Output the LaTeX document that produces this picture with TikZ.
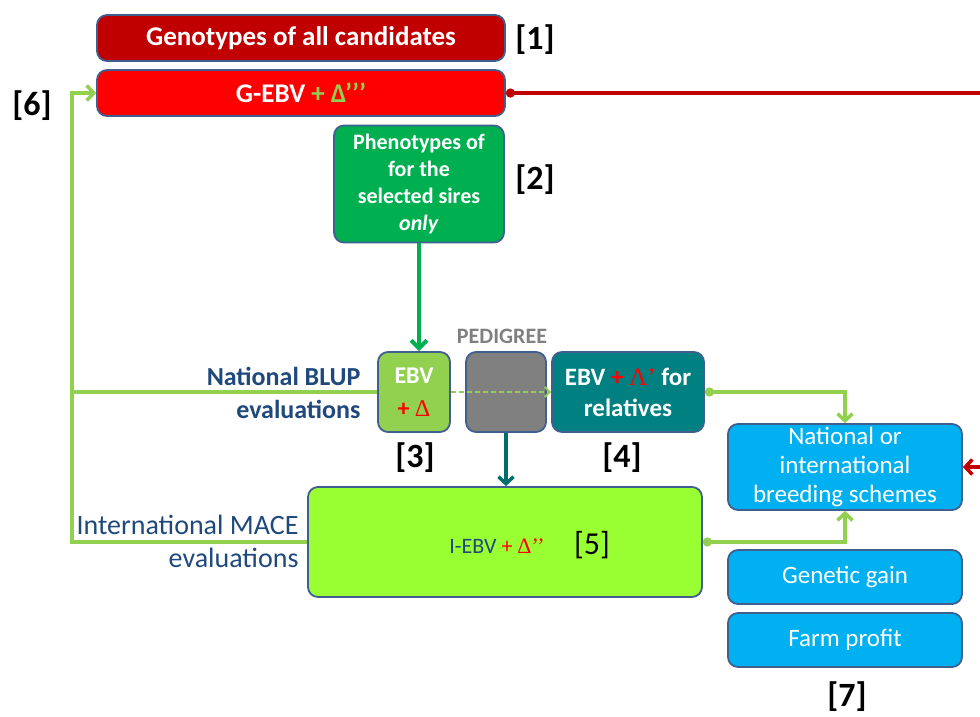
\documentclass[tikz,border=0pt]{standalone}
\usepackage{fontspec}
\setmainfont{Carlito}
\newfontfamily\grk{Liberation Serif}
\usetikzlibrary{arrows.meta}
\definecolor{bordc}{HTML}{3F5F8F}
\definecolor{darkred}{HTML}{C00000}
\definecolor{brightred}{HTML}{FF0000}
\definecolor{phengreen}{HTML}{00B050}
\definecolor{lightgreen}{HTML}{92D050}
\definecolor{limegreen}{HTML}{99FF33}
\definecolor{tealc}{HTML}{008080}
\definecolor{tealarrow}{HTML}{006E6E}
\definecolor{grayc}{HTML}{808080}
\definecolor{skyc}{HTML}{00B0F0}
\definecolor{navyc}{HTML}{1F497D}
\begin{document}
\begin{tikzpicture}[x=1pt,y=-1pt,
  box/.style={draw=bordc, line width=1.8pt, rounded corners=10pt, inner sep=0pt, align=center, text=white},
  tag/.style={font=\fontsize{34}{36}\selectfont\bfseries, text=black},
  gline/.style={draw=lightgreen, line width=3.5pt},
  barb/.style={-{Straight Barb[length=7pt,width=15pt,line width=3.5pt]}},
  dotted start/.style={{Circle[length=9pt]}-{Straight Barb[length=7pt,width=15pt,line width=3.5pt]}}
]
\useasboundingbox (0,0) rectangle (980,716);

% top boxes
\node[box, fill=darkred, minimum width=408pt, minimum height=46pt,
  font=\fontsize{27}{30}\selectfont\bfseries] (geno) at (301,38) {Genotypes of all candidates};
\node[box, fill=brightred, minimum width=408pt, minimum height=46pt,
  font=\fontsize{27}{30}\selectfont\bfseries] (gebv) at (301,93) {G-EBV \textcolor{lightgreen}{+ Δ’’’}};
\node[tag] (t1) at (535,40) {[1]};
\node[tag] (t6) at (32,106) {[6]};

% phenotypes
\node[box, fill=phengreen, minimum width=170pt, minimum height=117pt,
  font=\fontsize{22}{27}\selectfont\bfseries] (pheno) at (419,184)
  {Phenotypes of\\for the\\selected sires\\\textit{only}};
\node[tag] (t2) at (535,180) {[2]};

% middle row
\node[font=\fontsize{22}{24}\selectfont\bfseries, text=grayc] (pedlab) at (502,336) {PEDIGREE};
\node[box, fill=lightgreen, minimum width=72pt, minimum height=80pt,
  font=\fontsize{24}{33}\selectfont\bfseries] (ebv) at (414,392) {EBV\\\textcolor{brightred}{+ {\grk\mdseries Δ}}};
\node[box, fill=grayc, minimum width=80pt, minimum height=80pt] (ped) at (506,392) {};
\node[box, fill=tealc, minimum width=152pt, minimum height=80pt,
  font=\fontsize{25}{31}\selectfont\bfseries] (rel) at (628,392)
  {EBV \textcolor{brightred}{+ {\grk\mdseries Λ’}} for\\relatives};
\node[tag] (t3) at (415,458) {[3]};
\node[tag] (t4) at (622,458) {[4]};
\node[align=right, anchor=east, text=navyc, font=\fontsize{26}{33}\selectfont\bfseries] (nblup) at (364,393)
  {National BLUP\\evaluations};

% I-EBV
\node[box, fill=limegreen, minimum width=394pt, minimum height=110pt] (iebv) at (505,542) {};
\node[font=\fontsize{22}{24}\selectfont, text=navyc] (iebvt) at (497,546)
  {I-EBV \textcolor{brightred}{+ {\grk Δ’’}}};
\node[font=\fontsize{32}{34}\selectfont, text=black] (t5) at (592,545) {[5]};
\node[align=right, anchor=east, text=navyc, font=\fontsize{28}{33}\selectfont] (imace) at (302,541)
  {International MACE\\evaluations};

% right column
\node[box, fill=skyc, minimum width=234pt, minimum height=86pt,
  font=\fontsize{25}{29}\selectfont] (bs) at (845,467)
  {National or\\international\\breeding schemes};
\node[box, fill=skyc, minimum width=234pt, minimum height=54pt,
  font=\fontsize{25}{28}\selectfont] (gg) at (845,577) {Genetic gain};
\node[box, fill=skyc, minimum width=234pt, minimum height=54pt,
  font=\fontsize{25}{28}\selectfont] (fp) at (845,640) {Farm profit};
\node[tag] (t7) at (847,697) {[7]};

% connectors
\coordinate (jtop) at (72,93);
\coordinate (jmid) at (72,392);
\coordinate (jbot) at (72,542);
\draw[gline, barb] (iebv.west) -- (jbot) -- (jtop) -- (gebv.west);
\draw[gline] (jmid) -- (ebv.west);
\draw[draw=phengreen, line width=3.5pt, -{Straight Barb[length=8pt,width=16pt,line width=4pt]}]
  (pheno.south) -- (pheno.south |- ebv.north);
\draw[gline, line width=2pt, dash pattern=on 5pt off 3pt, -{Straight Barb[length=5pt,width=10pt,line width=2pt]}]
  (ebv.east) -- (rel.west);
\draw[draw=tealarrow, line width=3.5pt, -{Straight Barb[length=7pt,width=15pt,line width=3.5pt]}]
  (ped.south) -- (ped.south |- iebv.north);
\draw[gline, dotted start] (rel.east) -| (bs.north);
\draw[gline, dotted start] (iebv.east) -| (bs.south);
\coordinate (rc1) at (995,93);
\coordinate (rc2) at (995,467);
\draw[draw=darkred, line width=3.5pt, {Circle[length=9pt]}-{Straight Barb[length=7pt,width=15pt,line width=3.5pt]}]
  (gebv.east) -- (rc1) -- (rc2) -- (bs.east);
\end{tikzpicture}
\end{document}
